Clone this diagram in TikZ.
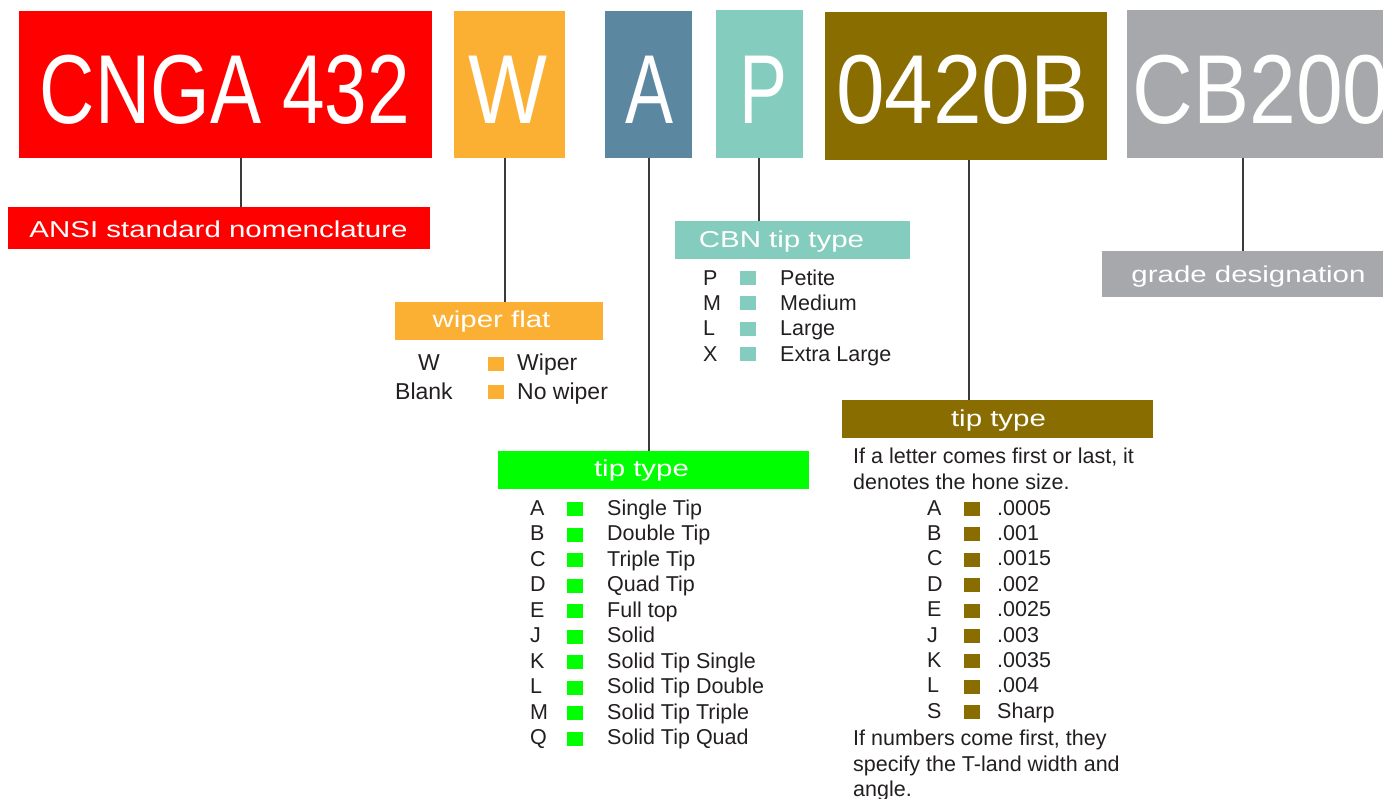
\documentclass[tikz,border=0pt]{standalone}
\usepackage{fontspec}
\setmainfont{Liberation Sans}
\newfontfamily\lblfont[FakeStretch=1.28]{Liberation Sans}
\usepackage{graphicx}
\definecolor{cred}{HTML}{FF0000}
\definecolor{corange}{HTML}{FBB034}
\definecolor{cblue}{HTML}{5B87A1}
\definecolor{cteal}{HTML}{84CCBD}
\definecolor{colive}{HTML}{8A6D00}
\definecolor{cgray}{HTML}{A7A8AC}
\definecolor{cgreen}{HTML}{00FF00}
\definecolor{ctext}{HTML}{231F20}
\definecolor{cline}{HTML}{3A3A3A}
\tikzset{
  box/.style={draw=none, inner sep=0pt, outer sep=0pt, rectangle},
  bigtxt/.style={inner sep=0pt, text=white, font=\fontsize{98}{100}\selectfont, anchor=base},
  lbltxt/.style={inner sep=0pt, text=white, font=\lblfont\fontsize{23}{27}\selectfont, anchor=base},
  listtxt/.style={inner sep=0pt, text=ctext, font=\fontsize{21.5}{25}\selectfont, anchor=base west},
  wipetxt/.style={inner sep=0pt, text=ctext, font=\fontsize{23}{27}\selectfont},
  sq/.style={draw=none, inner sep=0pt, outer sep=0pt, minimum width=16pt, minimum height=14pt},
  conn/.style={draw=cline, line width=1.1pt}
}
\begin{document}
\begin{tikzpicture}[x=1pt,y=-1pt]
\useasboundingbox (0,0) rectangle (1383,798);
% big code boxes
\node[box, fill=cred, minimum width=413pt, minimum height=147pt] (bred) at (225.5,84.5) {};
\node[box, fill=corange, minimum width=111pt, minimum height=147pt] (bwip) at (509.5,84.5) {};
\node[box, fill=cblue, minimum width=87pt, minimum height=147pt] (btip) at (648.5,84.5) {};
\node[box, fill=cteal, minimum width=87pt, minimum height=148pt] (bcbn) at (759.5,84) {};
\node[box, fill=colive, minimum width=282pt, minimum height=148pt] (bhone) at (966,86) {};
\node[box, fill=cgray, minimum width=256pt, minimum height=148pt] (bgrade) at (1255,84) {};
% big code texts
\node[bigtxt] (tred) at (225,123) {\resizebox{370pt}{\height}{CNGA 432}};
\node[bigtxt] (twip) at (507.5,123) {\resizebox{79pt}{\height}{W}};
\node[bigtxt] (ttip) at (649,123) {\resizebox{48pt}{\height}{A}};
\node[bigtxt] (tcbn) at (763,123) {\resizebox{48pt}{\height}{P}};
\node[bigtxt] (thone) at (962.5,123) {\resizebox{253pt}{\height}{0420B}};
\node[bigtxt] (tgrade) at (1261,123) {\resizebox{257pt}{\height}{CB200}};
% label boxes
\node[box, fill=cred, minimum width=422pt, minimum height=42pt] (lansi) at (219,228) {};
\node[box, fill=cteal, minimum width=235pt, minimum height=38pt] (lcbn) at (792.5,240) {};
\node[box, fill=cgray, minimum width=281pt, minimum height=46pt] (lgrade) at (1242.5,274) {};
\node[box, fill=corange, minimum width=208pt, minimum height=38pt] (lwip) at (499,321) {};
\node[box, fill=cgreen, minimum width=311pt, minimum height=38pt] (ltip) at (653.5,470) {};
\node[box, fill=colive, minimum width=311pt, minimum height=38pt] (lhone) at (997.5,419) {};
% label texts
\node[lbltxt] (xansi) at (218.5,237) {ANSI standard nomenclature};
\node[lbltxt] (xcbn) at (781.5,247) {CBN tip type};
\node[lbltxt] (xgrade) at (1248.5,282.5) {grade designation};
\node[lbltxt] (xwip) at (491.5,327) {wiper flat};
\node[lbltxt] (xtip) at (641.5,476.5) {tip type};
\node[lbltxt] (xhone) at (998.5,426.5) {tip type};
% connectors
\coordinate (c1) at (241,0);
\coordinate (c2) at (505,0);
\coordinate (c3) at (649,0);
\coordinate (c4) at (759,0);
\coordinate (c5) at (969,0);
\coordinate (c6) at (1243,0);
\draw[conn] (bred.south -| c1) -- (lansi.north -| c1);
\draw[conn] (bwip.south -| c2) -- (lwip.north -| c2);
\draw[conn] (btip.south -| c3) -- (ltip.north -| c3);
\draw[conn] (bcbn.south -| c4) -- (lcbn.north -| c4);
\draw[conn] (bhone.south -| c5) -- (lhone.north -| c5);
\draw[conn] (bgrade.south -| c6) -- (lgrade.north -| c6);
% wiper list
\node[wipetxt, anchor=base] (wl0) at (429,370) {W};
\node[sq, fill=corange] (ws0) at (496,364) {};
\node[wipetxt, anchor=base west] (wt0) at (517,370) {Wiper};
\node[wipetxt, anchor=base west] (wl1) at (395,399) {Blank};
\node[sq, fill=corange] (ws1) at (496,392) {};
\node[wipetxt, anchor=base west] (wt1) at (517,399) {No wiper};
% CBN list
\foreach \l/\t [count=\i from 0] in {P/Petite, M/Medium, L/Large, X/Extra Large} {
  \pgfmathsetmacro\yb{285+25.4*\i}
  \node[listtxt] (cl\i) at (703,\yb) {\l};
  \node[sq, fill=cteal] (cs\i) at (748,\yb-7) {};
  \node[listtxt] (ct\i) at (780,\yb) {\t};
}
% tip list
\foreach \l/\t [count=\i from 0] in {A/Single Tip, B/Double Tip, C/Triple Tip, D/Quad Tip, E/Full top, J/Solid, K/Solid Tip Single, L/Solid Tip Double, M/Solid Tip Triple, Q/Solid Tip Quad} {
  \pgfmathsetmacro\yb{515+25.55*\i}
  \node[listtxt] (gl\i) at (530,\yb) {\l};
  \node[sq, fill=cgreen] (gs\i) at (575,\yb-6) {};
  \node[listtxt] (gt\i) at (607,\yb) {\t};
}
% hone list
\node[listtxt] (p1) at (853,463) {If a letter comes first or last, it};
\node[listtxt] (p2) at (853,489) {denotes the hone size.};
\foreach \l/\t [count=\i from 0] in {A/.0005, B/.001, C/.0015, D/.002, E/.0025, J/.003, K/.0035, L/.004, S/Sharp} {
  \pgfmathsetmacro\yb{515+25.4*\i}
  \node[listtxt] (hl\i) at (927,\yb) {\l};
  \node[sq, fill=colive] (hs\i) at (972,\yb-6) {};
  \node[listtxt] (ht\i) at (997,\yb) {\t};
}
\node[listtxt] (p3) at (853,745) {If numbers come first, they};
\node[listtxt] (p4) at (853,771) {specify the T-land width and};
\node[listtxt] (p5) at (853,796) {angle.};
\end{tikzpicture}
\end{document}
